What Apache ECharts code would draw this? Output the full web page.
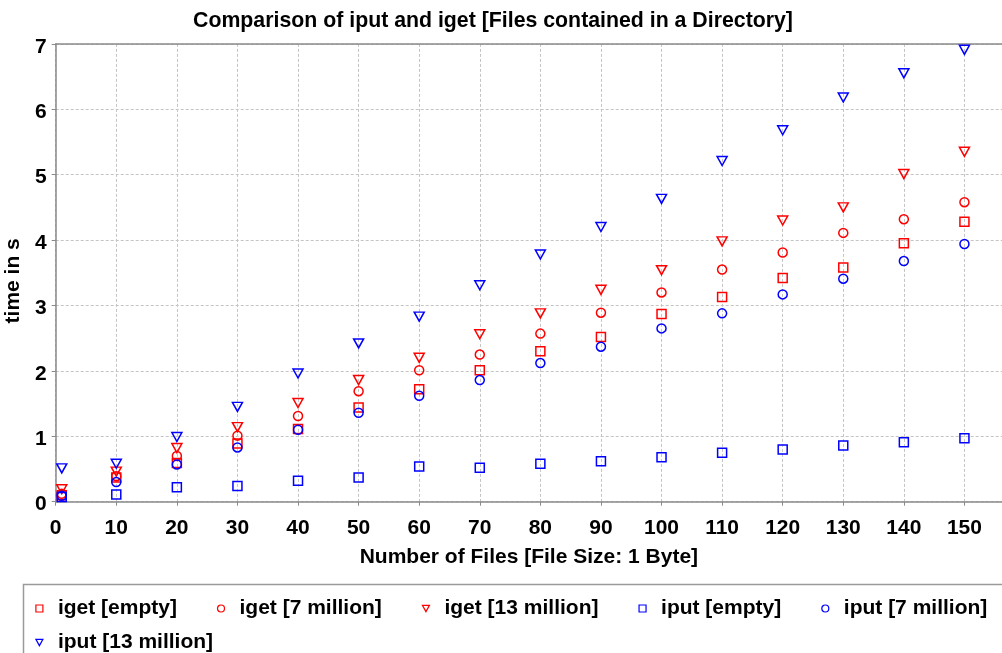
<!DOCTYPE html>
<html>
<head>
<meta charset="utf-8">
<script src="https://cdn.jsdelivr.net/npm/echarts@6/dist/echarts.min.js"></script>
<style>
  html, body { margin: 0; padding: 0; background: #fff; }
  #main { width: 1002px; height: 653px; }
</style>
</head>
<body>
<div id="main"></div>
<script>
// number of files per directory
const files = [1, 10, 20, 30, 40, 50, 60, 70, 80, 90, 100, 110, 120, 130, 140, 150];
// time in s
const igetEmpty = [0.10, 0.37, 0.59, 0.89, 1.11, 1.44, 1.72, 2.01, 2.30, 2.52, 2.87, 3.13, 3.42, 3.58, 3.95, 4.28];
const iget7M = [0.12, 0.39, 0.70, 1.01, 1.31, 1.69, 2.01, 2.25, 2.57, 2.89, 3.20, 3.55, 3.81, 4.11, 4.32, 4.58];
const iget13M = [0.19, 0.46, 0.82, 1.14, 1.51, 1.86, 2.20, 2.56, 2.88, 3.24, 3.54, 3.98, 4.30, 4.50, 5.01, 5.35];
const iputEmpty = [0.07, 0.11, 0.22, 0.24, 0.32, 0.37, 0.54, 0.52, 0.58, 0.62, 0.68, 0.75, 0.80, 0.86, 0.91, 0.97];
const iput7M = [0.09, 0.30, 0.57, 0.83, 1.10, 1.36, 1.62, 1.86, 2.12, 2.37, 2.65, 2.88, 3.17, 3.41, 3.68, 3.94];
const iput13M = [0.51, 0.58, 0.99, 1.45, 1.96, 2.42, 2.83, 3.31, 3.78, 4.20, 4.63, 5.21, 5.68, 6.18, 6.55, 6.91];

const names = ['iget [empty]', 'iget [7 million]', 'iget [13 million]', 'iput [empty]', 'iput [7 million]', 'iput [13 million]'];
const RED = '#ff0000';
const BLUE = '#0000ff';
// downward pointing triangle
const DOWN_TRI = 'path://M0,0 L10,0 L5,9 Z';

function pairs (ys) {
  return files.map(function (x, i) { return [x, ys[i]]; });
}

function scatter (name, ys, color, symbol) {
  return {
    name: name,
    type: 'scatter',
    data: pairs(ys),
    symbol: symbol,
    symbolSize: symbol === DOWN_TRI ? [10, 9] : 9,
    itemStyle: { color: 'rgba(255,255,255,0)', borderColor: color, borderWidth: 1.5, opacity: 1 },
    emphasis: { disabled: true },
    z: 3
  };
}

const chart = echarts.init(document.getElementById('main'));
const font = { fontFamily: 'Liberation Sans, Arial, sans-serif', fontWeight: 'bold', color: '#000' };

// legend: small markers, text pushed right like the original
const legendBase = {
  padding: 0,
  itemWidth: 7,
  itemHeight: 7,
  itemGap: 40,
  symbolKeepAspect: true,
  selectedMode: false,
  itemStyle: { borderWidth: 1.2 },
  textStyle: Object.assign({ fontSize: 21, padding: [0, 0, 0, 10] }, font)
};

const gridLine = { show: true, lineStyle: { color: '#c4c4c4', type: [3, 2], width: 1 } };
const axisGray = { color: '#8a8a8a', width: 1.5 };

const option = {
  animation: false,
  backgroundColor: '#fff',
  textStyle: { fontFamily: 'Liberation Sans, Arial, sans-serif' },
  title: {
    text: 'Comparison of iput and iget [Files contained in a Directory]',
    left: 488,
    textAlign: 'center',
    top: 6,
    textStyle: Object.assign({ fontSize: 21.3 }, font)
  },
  grid: {
    left: 55.7,
    right: 0,
    top: 43.9,
    bottom: 151.3,
    containLabel: false,
    outerBoundsMode: 'none'
  },
  xAxis: [
    {
      type: 'value',
      min: 0,
      max: 156.2,
      interval: 10,
      name: 'Number of Files [File Size: 1 Byte]',
      nameLocation: 'middle',
      nameGap: 45,
      nameTextStyle: Object.assign({ fontSize: 21 }, font),
      axisLine: { lineStyle: axisGray },
      axisTick: { show: true, length: 4, lineStyle: { color: '#8a8a8a' } },
      axisLabel: Object.assign({ fontSize: 21, margin: 16, showMaxLabel: false }, font),
      splitLine: gridLine
    },
    {
      // plain border along the top of the plot
      type: 'value',
      position: 'top',
      min: 0,
      max: 156.2,
      interval: 10,
      axisLine: { show: true, lineStyle: axisGray },
      axisTick: { show: false },
      axisLabel: { show: false },
      splitLine: { show: false }
    }
  ],
  yAxis: {
    type: 'value',
    min: 0,
    max: 7,
    interval: 1,
    name: 'time in s',
    nameLocation: 'middle',
    nameGap: 27,
    nameTextStyle: Object.assign({ fontSize: 21, padding: [0, 16, 0, 0] }, font),
    axisLine: { show: true, lineStyle: axisGray },
    axisTick: { show: true, length: 4, lineStyle: { color: '#8a8a8a' } },
    axisLabel: Object.assign({ fontSize: 21, margin: 9, verticalAlign: 'top', lineHeight: 6 }, font),
    splitLine: gridLine
  },
  legend: [
    Object.assign({}, legendBase, { data: names.slice(0, 5), left: 35.3, top: 598, width: 1200 }),
    Object.assign({}, legendBase, { data: names.slice(5), left: 35.3, top: 632 })
  ],
  graphic: [
    {
      type: 'rect',
      shape: { x: 23.5, y: 584.5, width: 1000, height: 100 },
      style: { fill: 'none', stroke: '#9a9a9a', lineWidth: 1.5 },
      silent: true
    }
  ],
  series: [
    scatter(names[0], igetEmpty, RED, 'rect'),
    scatter(names[1], iget7M, RED, 'circle'),
    scatter(names[2], iget13M, RED, DOWN_TRI),
    scatter(names[3], iputEmpty, BLUE, 'rect'),
    scatter(names[4], iput7M, BLUE, 'circle'),
    scatter(names[5], iput13M, BLUE, DOWN_TRI)
  ]
};

chart.setOption(option);
</script>
</body>
</html>
